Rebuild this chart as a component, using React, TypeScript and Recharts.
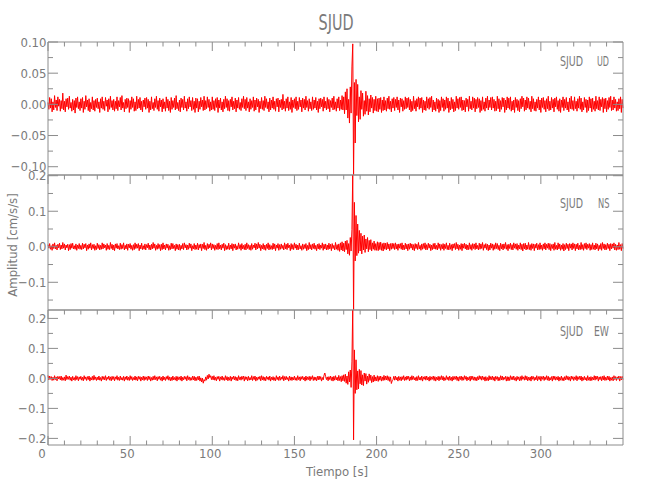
import { LineChart, Line, XAxis, YAxis } from "recharts";

// seismogram samples, every 0.5 s from 0 to 350 s, in units of 0.001 cm/s/s
const SAMPLE_STEP = 0.5;

const UD = [
  3, -8, 11, -6, 9, -12, 4, -9, 14, -5, 7, -10, 12, -3, 8, -11, 6, -7, 18, -9, // 0
  5, -12, 9, -4, 10, -8, 13, -6, 3, -11, 8, -9, 6, -14, 10, -5, 12, -7, 4, -10, // 10
  9, -6, 11, -13, 5, -8, 14, -4, 7, -10, 9, -12, 3, -7, 12, -9, 6, -11, 8, -5, // 20
  10, -7, 4, -13, 9, -6, 12, -8, 5, -10, 11, -3, 7, -12, 9, -8, 13, -5, 6, -9, // 30
  8, -11, 5, -7, 12, -10, 6, -4, 11, -9, 14, -6, 3, -12, 8, -7, 10, -5, 9, -13, // 40
  6, -8, 12, -5, 9, -11, 4, -10, 13, -7, 8, -6, 11, -9, 5, -12, 7, -4, 10, -8, // 50
  11, -6, 8, -13, 5, -9, 12, -7, 3, -10, 9, -5, 13, -8, 6, -11, 10, -4, 7, -12, // 60
  9, -7, 4, -11, 12, -6, 8, -10, 5, -13, 11, -8, 6, -5, 10, -9, 14, -7, 3, -10, // 70
  7, -12, 10, -5, 8, -9, 13, -6, 4, -11, 9, -7, 12, -4, 6, -10, 11, -8, 5, -13, // 80
  10, -6, 9, -12, 5, -8, 11, -4, 7, -10, 13, -9, 6, -7, 12, -5, 8, -11, 4, -9, // 90
  12, -8, 6, -10, 9, -5, 11, -13, 7, -6, 10, -9, 4, -12, 8, -7, 13, -5, 9, -10, // 100
  6, -11, 8, -4, 12, -9, 5, -7, 10, -12, 7, -6, 11, -8, 3, -10, 9, -5, 13, -7, // 110
  8, -10, 11, -6, 4, -12, 9, -8, 6, -5, 12, -11, 7, -9, 10, -4, 8, -13, 5, -7, // 120
  11, -8, 6, -10, 13, -5, 9, -7, 4, -12, 10, -9, 7, -6, 12, -8, 5, -11, 9, -4, // 130
  10, -12, 7, -5, 8, -9, 16, -7, 5, -11, 9, -6, 12, -10, 4, -8, 11, -13, 7, -5, // 140
  9, -7, 12, -10, 5, -8, 11, -4, 7, -12, 10, -6, 8, -9, 13, -5, 6, -11, 9, -7, // 150
  4, -10, 12, -8, 7, -6, 11, -9, 5, -13, 9, -7, 10, -4, 8, -11, 12, -6, 5, -9, // 160
  11, -7, 8, -12, 6, -5, 10, -9, 13, -8, 4, -11, 9, -6, 12, -10, 7, -8, 14, -9, // 170
  12, -15, 20, -9, 25, -22, 8, -30, 28, -14, 60, 97, -115, 35, -62, 40, -18, 32, -28, 12, // 180
  -24, 22, -8, 18, -19, 6, -16, 21, -11, 14, -17, 9, -12, 15, -6, 11, -14, 8, -10, 13, // 190
  -11, 9, -12, 10, -8, 11, -13, 7, -10, 12, -9, 6, -11, 10, -7, 13, -8, 5, -12, 9, // 200
  -6, 11, -10, 8, -5, 12, -9, 7, -13, 10, -4, 9, -11, 6, -8, 12, -7, 10, -5, 11, // 210
  -9, 8, -12, 5, -10, 13, -7, 6, -11, 9, -4, 12, -8, 10, -6, 11, -13, 7, -9, 5, // 220
  -10, 12, -6, 9, -8, 11, -5, 13, -12, 7, -9, 4, -11, 10, -7, 8, -13, 6, -10, 12, // 230
  -5, 9, -11, 7, -8, 12, -6, 10, -13, 5, -9, 11, -7, 8, -12, 4, -10, 13, -6, 9, // 240
  -8, 11, -5, 12, -10, 7, -9, 6, -12, 10, -4, 8, -11, 13, -7, 5, -9, 12, -6, 10, // 250
  -12, 8, -7, 11, -5, 9, -13, 6, -10, 12, -8, 4, -11, 10, -6, 13, -9, 7, -5, 11, // 260
  -9, 12, -6, 8, -11, 5, -10, 13, -7, 9, -12, 6, -8, 11, -4, 10, -13, 7, -9, 12, // 270
  -6, 10, -8, 12, -11, 5, -9, 7, -13, 11, -5, 8, -10, 6, -12, 9, -7, 13, -4, 10, // 280
  -11, 7, -9, 12, -6, 10, -8, 5, -12, 13, -7, 9, -10, 4, -11, 8, -6, 12, -9, 7, // 290
  -13, 10, -5, 11, -8, 6, -12, 9, -7, 13, -10, 5, -9, 11, -6, 8, -12, 10, -4, 12, // 300
  -8, 6, -11, 9, -13, 7, -5, 12, -10, 8, -6, 11, -9, 4, -12, 10, -7, 13, -8, 6, // 310
  -10, 12, -7, 5, -11, 9, -6, 13, -8, 10, -12, 4, -9, 11, -5, 8, -13, 7, -10, 12, // 320
  -6, 9, -12, 10, -8, 5, -11, 13, -7, 6, -9, 12, -10, 8, -4, 11, -13, 9, -7, 10, // 330
  -12, 6, -8, 11, -5, 13, -10, 7, -9, 12, -6, 8, -11, 4, -10, 9, -7, 12, -13, 8, // 340
  -6,
];

const NS = [
  6, -4, 9, -7, 3, -10, 8, -5, 11, -6, 4, -9, 7, -3, 10, -8, 5, -6, 12, -4, // 0
  8, -9, 5, -3, 7, -11, 6, -8, 9, -4, 10, -6, 3, -7, 8, -10, 5, -5, 9, -7, // 10
  4, -8, 10, -6, 7, -3, 9, -11, 5, -7, 8, -4, 11, -9, 6, -5, 7, -10, 3, -8, // 20
  10, -5, 6, -9, 4, -7, 11, -6, 8, -3, 5, -10, 9, -7, 4, -8, 12, -5, 7, -9, // 30
  5, -11, 8, -4, 9, -6, 3, -8, 10, -7, 6, -5, 11, -9, 4, -6, 8, -10, 7, -3, // 40
  9, -7, 4, -10, 6, -8, 11, -5, 7, -4, 9, -11, 5, -6, 10, -8, 3, -7, 8, -9, // 50
  6, -3, 10, -8, 5, -9, 7, -6, 12, -4, 8, -10, 4, -7, 9, -5, 6, -11, 7, -8, // 60
  11, -6, 5, -9, 8, -4, 7, -10, 3, -8, 10, -6, 9, -5, 4, -11, 8, -7, 6, -9, // 70
  7, -10, 4, -6, 9, -8, 11, -3, 6, -9, 5, -7, 10, -4, 8, -11, 3, -6, 9, -8, // 80
  5, -7, 10, -9, 6, -4, 8, -11, 7, -5, 12, -8, 4, -10, 9, -6, 7, -3, 11, -9, // 90
  8, -5, 6, -10, 4, -7, 9, -8, 11, -6, 5, -9, 7, -4, 10, -11, 6, -8, 3, -7, // 100
  10, -8, 5, -6, 9, -11, 7, -4, 8, -9, 3, -7, 11, -5, 6, -10, 9, -6, 4, -8, // 110
  7, -9, 11, -5, 6, -8, 4, -10, 9, -7, 5, -3, 10, -9, 8, -6, 12, -4, 7, -11, // 120
  4, -6, 9, -8, 5, -10, 7, -5, 11, -9, 6, -7, 3, -8, 10, -6, 8, -11, 5, -4, // 130
  9, -10, 6, -7, 8, -5, 4, -9, 11, -6, 7, -8, 10, -3, 5, -11, 9, -7, 6, -8, // 140
  11, -4, 7, -9, 5, -8, 10, -6, 3, -10, 8, -7, 6, -5, 9, -11, 4, -8, 12, -6, // 150
  6, -9, 8, -5, 10, -7, 4, -11, 7, -6, 9, -8, 5, -4, 11, -10, 7, -6, 8, -9, // 160
  5, -8, 10, -6, 7, -11, 9, -5, 4, -9, 12, -7, 6, -10, 8, -13, 11, -9, 14, -12, // 170
  10, -14, 16, -8, 18, -20, 9, -24, 26, -12, 48, 210, -190, 125, -40, 88, -25, 64, -18, 46, // 180
  -12, 38, -20, 30, -9, 33, -16, 22, -6, 26, -14, 18, -8, 20, -12, 11, -7, 16, -10, 9, // 190
  -10, 14, -11, 12, -8, 13, -10, 9, -12, 11, -7, 10, -9, 12, -6, 8, -11, 9, -7, 10, // 200
  -5, 9, -8, 11, -6, 7, -10, 8, -4, 9, -7, 11, -9, 5, -8, 10, -6, 7, -11, 8, // 210
  -7, 10, -4, 8, -9, 6, -11, 9, -5, 7, -8, 12, -6, 4, -10, 8, -7, 9, -5, 11, // 220
  -9, 6, -8, 10, -4, 7, -11, 5, -8, 9, -6, 10, -7, 4, -9, 11, -5, 8, -10, 6, // 230
  -6, 9, -10, 7, -5, 11, -8, 4, -9, 10, -7, 6, -11, 8, -4, 9, -8, 12, -6, 7, // 240
  -10, 5, -7, 9, -11, 8, -4, 10, -6, 7, -9, 5, -8, 11, -7, 6, -10, 9, -5, 8, // 250
  -8, 11, -6, 4, -9, 10, -7, 8, -5, 12, -10, 6, -4, 9, -8, 7, -11, 5, -9, 10, // 260
  -4, 8, -10, 6, -7, 11, -5, 9, -8, 4, -11, 10, -6, 7, -9, 8, -5, 12, -7, 6, // 270
  -11, 7, -5, 10, -8, 6, -9, 11, -4, 8, -7, 9, -10, 5, -6, 11, -8, 7, -12, 9, // 280
  -6, 10, -9, 5, -7, 12, -8, 6, -10, 9, -5, 8, -11, 7, -4, 10, -9, 6, -8, 11, // 290
  -7, 5, -10, 8, -6, 11, -9, 7, -4, 10, -8, 9, -11, 6, -5, 8, -10, 12, -7, 4, // 300
  -9, 11, -6, 8, -10, 5, -7, 9, -12, 6, -8, 10, -5, 7, -11, 9, -4, 8, -9, 11, // 310
  -5, 8, -11, 7, -6, 10, -9, 4, -8, 12, -7, 6, -10, 9, -5, 11, -8, 7, -4, 9, // 320
  -10, 6, -8, 11, -7, 5, -9, 10, -6, 8, -11, 4, -7, 9, -10, 12, -5, 8, -9, 6, // 330
  -8, 10, -5, 7, -11, 9, -6, 8, -4, 11, -9, 7, -10, 5, -8, 12, -7, 6, -11, 9, // 340
  -5,
];

const EW = [
  10, -5, 8, -3, 6, -7, 4, -6, 9, -4, 5, -8, 7, -2, 6, -5, 8, -7, 3, -6, // 0
  5, -8, 11, -4, 6, -3, 8, -6, 4, -9, 7, -5, 3, -7, 9, -4, 6, -8, 5, -3, // 10
  7, -6, 4, -8, 9, -3, 5, -7, 6, -4, 8, -9, 3, -5, 7, -6, 10, -4, 5, -7, // 20
  4, -5, 8, -6, 3, -9, 7, -4, 6, -5, 9, -7, 4, -3, 8, -6, 5, -8, 7, -4, // 30
  6, -8, 5, -3, 9, -6, 4, -7, 8, -5, 3, -6, 7, -9, 5, -4, 8, -6, 4, -7, // 40
  9, -4, 6, -7, 3, -5, 8, -6, 5, -8, 7, -3, 6, -9, 4, -5, 8, -7, 6, -4, // 50
  5, -7, 8, -4, 6, -9, 3, -6, 7, -5, 9, -4, 5, -8, 6, -3, 7, -6, 4, -9, // 60
  8, -5, 4, -7, 6, -3, 9, -6, 5, -8, 4, -7, 8, -5, 3, -6, 7, -9, 6, -4, // 70
  5, -6, 8, -9, 4, -5, 7, -3, 6, -8, 9, -4, 5, -7, 3, -6, 8, -5, 7, -8, // 80
  4, -7, 6, -5, 8, -9, 2, -12, 1, -16, -4, -9, 5, -6, 10, -2, 14, 3, 9, -4, // 90
  7, -5, 9, -6, 4, -8, 6, -3, 7, -9, 5, -4, 8, -6, 3, -7, 9, -5, 6, -8, // 100
  4, -6, 7, -9, 5, -3, 8, -5, 6, -7, 4, -8, 9, -4, 5, -6, 7, -3, 8, -9, // 110
  6, -4, 5, -8, 7, -6, 3, -5, 9, -7, 6, -4, 8, -9, 4, -6, 5, -3, 7, -8, // 120
  9, -5, 6, -7, 4, -8, 7, -3, 5, -6, 8, -9, 4, -5, 6, -7, 3, -8, 9, -4, // 130
  5, -7, 8, -6, 4, -3, 9, -8, 6, -5, 7, -4, 3, -9, 8, -6, 5, -7, 4, -5, // 140
  8, -6, 3, -7, 9, -4, 5, -8, 6, -3, 7, -5, 4, -9, 8, -6, 5, -4, 7, -8, // 150
  6, -3, 9, -7, 5, -6, 4, -8, 7, -5, 8, -4, 6, -9, 3, -5, 10, 18, 6, -4, // 160
  5, -8, 6, -4, 8, -7, 5, -9, 7, -6, 9, -5, 4, -8, 10, -7, 6, -11, 9, -8, // 170
  12, -10, 14, -16, 8, -20, 22, -12, 28, -30, 55, 240, -205, 95, -50, 62, -38, 25, -35, 30, // 180
  -18, 26, -22, 12, -24, 18, -9, 16, -19, 8, -13, 15, -7, 11, -14, 6, -12, 11, -9, 5, // 190
  -8, 9, -10, 7, -6, 8, -9, 5, -7, 10, -6, 8, -5, 9, -7, 6, -10, 5, -17, -8, // 200
  -4, 7, -6, 8, -5, 4, -9, 7, -6, 5, -8, 6, -4, 9, -7, 5, -6, 8, -3, 7, // 210
  -8, 5, -6, 9, -4, 7, -5, 3, -8, 6, -7, 9, -5, 4, -6, 8, -9, 5, -3, 7, // 220
  -6, 8, -5, 4, -9, 7, -6, 5, -3, 8, -7, 6, -9, 4, -5, 7, -8, 6, -4, 9, // 230
  -5, 7, -8, 3, -6, 9, -4, 5, -7, 8, -6, 4, -9, 7, -5, 6, -3, 8, -7, 5, // 240
  -9, 6, -4, 8, -7, 5, -6, 9, -3, 7, -8, 4, -5, 6, -9, 8, -4, 7, -6, 5, // 250
  -7, 4, -8, 6, -5, 9, -3, 7, -6, 8, -4, 5, -9, 6, -7, 3, -8, 9, -5, 6, // 260
  -4, 8, -6, 5, -9, 7, -3, 6, -8, 4, -7, 9, -5, 8, -6, 4, -3, 7, -9, 6, // 270
  -8, 5, -7, 9, -4, 6, -5, 8, -6, 3, -9, 7, -4, 5, -8, 6, -7, 9, -3, 5, // 280
  -6, 9, -5, 7, -8, 4, -6, 5, -9, 8, -3, 6, -7, 4, -5, 9, -8, 6, -4, 7, // 290
  -9, 6, -3, 8, -7, 5, -4, 9, -6, 7, -8, 3, -5, 6, -9, 8, -4, 7, -6, 5, // 300
  -5, 7, -9, 4, -6, 8, -7, 3, -8, 6, -5, 9, -4, 7, -6, 5, -9, 8, -3, 6, // 310
  -7, 5, -4, 9, -8, 6, -3, 7, -5, 8, -9, 4, -6, 7, -5, 3, -8, 9, -6, 4, // 320
  -8, 6, -7, 4, -5, 9, -6, 8, -3, 7, -9, 5, -4, 6, -8, 7, -5, 9, -7, 4, // 330
  -6, 8, -5, 7, -9, 3, -6, 5, -8, 9, -4, 6, -7, 5, -3, 8, -9, 6, -5, 7, // 340
  -4,
];

const TIME = UD.map((_, i) => i * SAMPLE_STEP);

const X_TICKS = [0, 10, 20, 30, 40, 50, 60, 70, 80, 90, 100, 110, 120, 130, 140, 150, 160, 170, 180, 190, 200, 210, 220, 230, 240, 250, 260, 270, 280, 290, 300, 310, 320, 330, 340];
const X_LABELS = [0, 50, 100, 150, 200, 250, 300];

const UD_TICKS = [-0.1, -0.075, -0.05, -0.025, 0, 0.025, 0.05, 0.075, 0.1];
const UD_LABELS = [-0.1, -0.05, 0, 0.05, 0.1];
const NS_TICKS = [-0.15, -0.1, -0.05, 0, 0.05, 0.1, 0.15, 0.2];
const NS_LABELS = [-0.1, 0, 0.1, 0.2];
const EW_TICKS = [-0.2, -0.15, -0.1, -0.05, 0, 0.05, 0.1, 0.15, 0.2];
const EW_LABELS = [-0.2, -0.1, 0, 0.1, 0.2];

const LEFT = 48;
const RIGHT = 623;
const AXIS = "#8c8c8c";
const TEXT = "#7a7a7a";
const FONT = "'Liberation Sans Narrow', 'DejaVu Sans Condensed', sans-serif";

const near = (list: number[], v: number) => list.some((m) => Math.abs(m - v) < 1e-9);
const fmt = (v: number, digits: number) => {
  const s = Math.abs(v) < 1e-9 ? (0).toFixed(digits) : v.toFixed(digits);
  return s.replace("-", "\u2212");
};
// the original plot nudges its short labels a little to the left
const xLabelShift = (v: number) => (v === 0 ? -6 : v === 50 ? -3 : v === 100 ? -2 : 0);

interface PanelProps {
  series: number[];
  domain: [number, number];
  yTicks: number[];
  yLabels: number[];
  digits: number;
  top: number;
  bottom: number;
  last: boolean;
}

function Panel({ series, domain, yTicks, yLabels, digits, top, bottom, last }: PanelProps) {
  const data = TIME.map((t, i) => ({ t, v: series[i] / 1000 }));

  const bottomTick = (p: any) => {
    const v = p.payload.value;
    const major = v % 50 === 0;
    return (
      <g>
        <line x1={p.x} x2={p.x} y1={bottom} y2={bottom - (major ? 9 : 4.5)} stroke={AXIS} />
        {near(X_LABELS, v) && (
          <text x={p.x + xLabelShift(v)} y={458} textAnchor="middle" fontSize={13} fontFamily={FONT} fill={TEXT}>
            {v}
          </text>
        )}
      </g>
    );
  };

  const topTick = (p: any) => {
    const major = p.payload.value % 50 === 0;
    return <line x1={p.x} x2={p.x} y1={top} y2={top + (major ? 9 : 4.5)} stroke={AXIS} />;
  };

  const leftTick = (p: any) => {
    const v = p.payload.value;
    const major = near(yLabels, v);
    return (
      <g>
        <line x1={LEFT} x2={LEFT + (major ? 10 : 5)} y1={p.y} y2={p.y} stroke={AXIS} />
        {major && (
          <text x={LEFT - 1.5} y={p.y + 4.5} textAnchor="end" fontSize={13} fontFamily={FONT} fill={TEXT}>
            {fmt(v, digits)}
          </text>
        )}
      </g>
    );
  };

  const rightTick = (p: any) => {
    const major = near(yLabels, p.payload.value);
    return <line x1={RIGHT} x2={RIGHT - (major ? 10 : 5)} y1={p.y} y2={p.y} stroke={AXIS} />;
  };

  return (
    <div style={{ position: "absolute", left: 0, top: 0 }}>
      <LineChart
        width={650}
        height={500}
        data={data}
        margin={{ top: top - 10, bottom: 500 - bottom - 10, left: LEFT - 10, right: 650 - RIGHT - 10 }}
      >
        <XAxis
          xAxisId="bottom"
          dataKey="t"
          type="number"
          domain={[0, 350]}
          ticks={X_TICKS}
          interval={0}
          height={10}
          tickSize={0}
          tickMargin={0}
          tickLine={false}
          axisLine={{ stroke: AXIS }}
          tick={last ? bottomTick : false}
        />
        <XAxis
          xAxisId="top"
          orientation="top"
          dataKey="t"
          type="number"
          domain={[0, 350]}
          ticks={X_TICKS}
          interval={0}
          height={10}
          tickSize={0}
          tickMargin={0}
          tickLine={false}
          axisLine={{ stroke: AXIS }}
          tick={topTick}
        />
        <YAxis
          yAxisId="left"
          type="number"
          domain={domain}
          allowDataOverflow
          ticks={yTicks}
          interval={0}
          width={10}
          tickSize={0}
          tickMargin={0}
          tickLine={false}
          axisLine={{ stroke: AXIS }}
          tick={leftTick}
        />
        <YAxis
          yAxisId="right"
          orientation="right"
          type="number"
          domain={domain}
          allowDataOverflow
          ticks={yTicks}
          interval={0}
          width={10}
          tickSize={0}
          tickMargin={0}
          tickLine={false}
          axisLine={{ stroke: AXIS }}
          tick={rightTick}
        />
        <Line
          xAxisId="top"
          yAxisId="right"
          dataKey="v"
          stroke="none"
          dot={false}
          activeDot={false}
          isAnimationActive={false}
        />
        <Line
          xAxisId="bottom"
          yAxisId="left"
          type="linear"
          dataKey="v"
          stroke="#ff0000"
          strokeWidth={1}
          dot={false}
          activeDot={false}
          isAnimationActive={false}
        />
      </LineChart>
    </div>
  );
}

export default function App() {
  return (
    <div style={{ position: "absolute", left: 0, top: 0, width: 650, height: 500, background: "#fff" }}>
      <Panel series={UD} domain={[-0.1133, 0.1]} yTicks={UD_TICKS} yLabels={UD_LABELS} digits={2} top={42} bottom={175} last={false} />
      <Panel series={NS} domain={[-0.178, 0.202]} yTicks={NS_TICKS} yLabels={NS_LABELS} digits={1} top={175} bottom={310} last={false} />
      <Panel series={EW} domain={[-0.222, 0.228]} yTicks={EW_TICKS} yLabels={EW_LABELS} digits={1} top={310} bottom={445} last={true} />
      <svg width={650} height={500} style={{ position: "absolute", left: 0, top: 0, pointerEvents: "none" }}>
        <g fontFamily={FONT} fill={TEXT}>
          <text x={336} y={30} textAnchor="middle" fontSize={21} textLength={35} lengthAdjust="spacingAndGlyphs">
            SJUD
          </text>
          <text x={560} y={65.5} fontSize={14} textLength={23} lengthAdjust="spacingAndGlyphs">SJUD</text>
          <text x={597} y={65.5} fontSize={14} textLength={12} lengthAdjust="spacingAndGlyphs">UD</text>
          <text x={560} y={207.5} fontSize={14} textLength={23} lengthAdjust="spacingAndGlyphs">SJUD</text>
          <text x={598} y={207.5} fontSize={14} textLength={11.5} lengthAdjust="spacingAndGlyphs">NS</text>
          <text x={560} y={335.5} fontSize={14} textLength={23} lengthAdjust="spacingAndGlyphs">SJUD</text>
          <text x={594} y={335.5} fontSize={14} textLength={15} lengthAdjust="spacingAndGlyphs">EW</text>
          <text x={337} y={476} textAnchor="middle" fontSize={13}>
            Tiempo [s]
          </text>
          <text x={17} y={245} textAnchor="middle" fontSize={13} transform="rotate(-90, 17, 245)">
            Amplitud [cm/s/s]
          </text>
        </g>
      </svg>
    </div>
  );
}
